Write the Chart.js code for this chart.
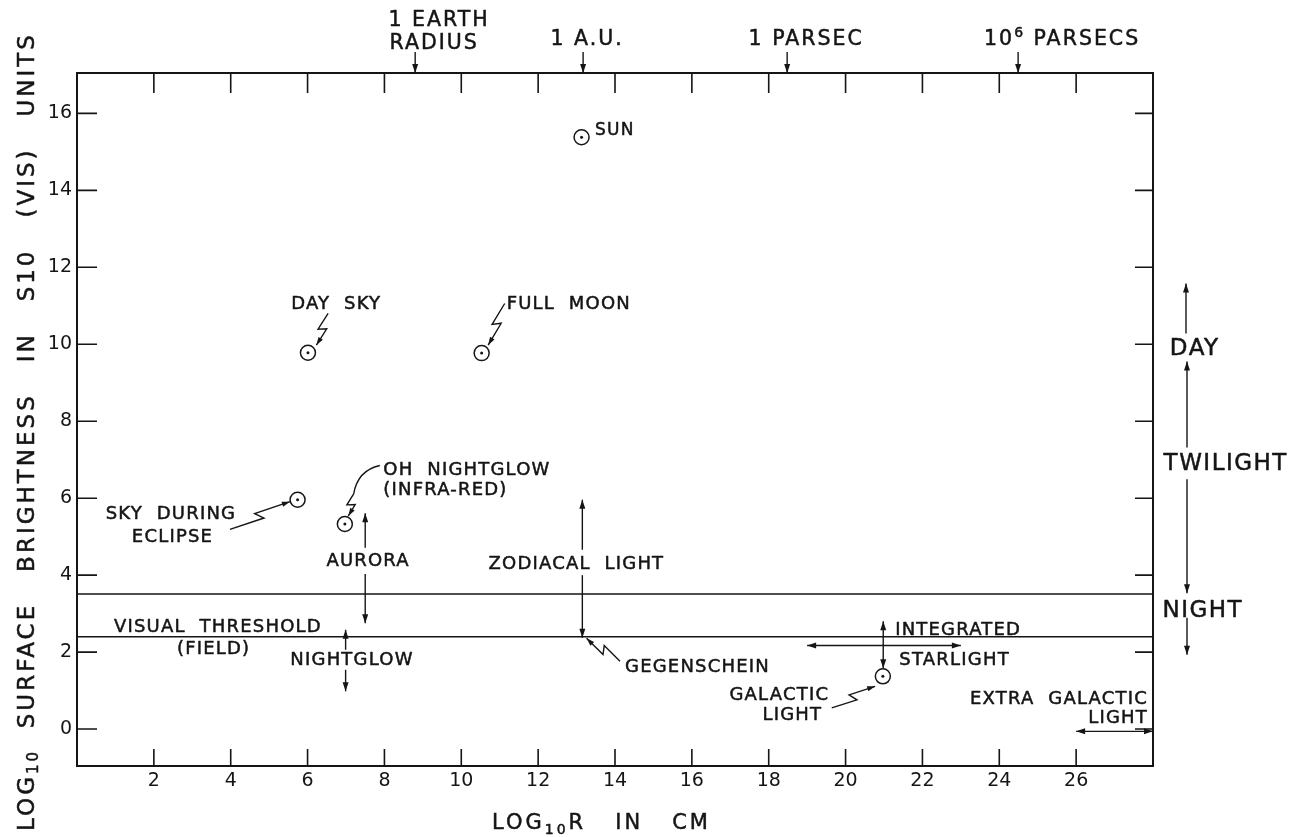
<!DOCTYPE html>
<html>
<head>
<meta charset="utf-8">
<title>Surface brightness of celestial and atmospheric sources</title>
<script src="https://cdn.jsdelivr.net/npm/chart.js@4.4.1/dist/chart.umd.min.js"></script>
<style>
  html, body { margin: 0; padding: 0; background: #fff; }
  #wrap { width: 1296px; height: 837px; }
</style>
</head>
<body>
<div id="wrap"><canvas id="chart" width="1296" height="837"></canvas></div>
<script>
// ---- axis ticks ----
const xTickValues = [2, 4, 6, 8, 10, 12, 14, 16, 18, 20, 22, 24, 26];
const yTickValues = [0, 2, 4, 6, 8, 10, 12, 14, 16];

// ---- point sources: log10 R (cm) vs log10 surface brightness (S10 vis units) ----
const sourceNames = ['SUN', 'DAY SKY', 'FULL MOON', 'SKY DURING ECLIPSE', 'OH NIGHTGLOW (INFRA-RED)', 'GALACTIC LIGHT'];
const sourceLogR  = [13.13, 6.01, 10.53, 5.74, 6.97, 20.97];
const sourceLogB  = [15.38, 9.78, 9.77, 5.96, 5.33, 1.37];

// ---- horizontal reference levels ----
const levelNames  = ['NIGHT LIMIT', 'VISUAL THRESHOLD (FIELD)'];
const levelValues = [3.51, 2.40];

// ---- brightness ranges (vertical double arrows) ----
const rangeNames = ['AURORA', 'NIGHTGLOW', 'ZODIACAL LIGHT', 'INTEGRATED STARLIGHT'];
const rangeLogR  = [7.50, 6.99, 13.15, 20.98];
const rangeLow   = [2.75, 0.98, 2.37, 1.58];
const rangeHigh  = [5.61, 2.58, 5.96, 2.80];

// ---- distance ranges (horizontal double arrows) ----
const spanNames = ['INTEGRATED STARLIGHT', 'EXTRA GALACTIC LIGHT'];
const spanLevel = [2.17, -0.06];
const spanFrom  = [19.0, 26.0];
const spanTo    = [23.0, 28.0];

// ---- reference distances along the top edge ----
const markerNames = ['1 EARTH RADIUS', '1 A.U.', '1 PARSEC', '10^6 PARSECS'];
const markerLogR  = [8.80, 13.17, 18.48, 24.49];

// ---- day / twilight / night regimes on the right ----
const regimeNames  = ['DAY', 'TWILIGHT', 'NIGHT'];
const regimeBounds = [9.55, 3.53];   // day|twilight, twilight|night
const regimeTips   = [11.58, 1.93];  // open ends of the day and night arrows

const X_MIN = 0, X_MAX = 28, Y_MIN = -0.96, Y_MAX = 17.05;
const INK = '#151515';
const FONT = "'DejaVu Sans', 'Liberation Sans', sans-serif";

// ---------- drawing helpers ----------
function arrowHead(ctx, x0, y0, x1, y1, len = 9, half = 3) {
  const a = Math.atan2(y1 - y0, x1 - x0);
  const c = Math.cos(a), s = Math.sin(a);
  ctx.beginPath();
  ctx.moveTo(x1, y1);
  ctx.lineTo(x1 - len * c + half * s, y1 - len * s - half * c);
  ctx.lineTo(x1 - len * c - half * s, y1 - len * s + half * c);
  ctx.closePath();
  ctx.fill();
}
function arrow(ctx, x0, y0, x1, y1, headEnd = true, headStart = false) {
  ctx.beginPath(); ctx.moveTo(x0, y0); ctx.lineTo(x1, y1); ctx.stroke();
  if (headEnd) arrowHead(ctx, x0, y0, x1, y1);
  if (headStart) arrowHead(ctx, x1, y1, x0, y0);
}
// leader line with a lightning-style kink and an arrowhead at the target
function zigzag(ctx, x0, y0, x1, y1) {
  const dx = x1 - x0, dy = y1 - y0, L = Math.hypot(dx, dy);
  const nx = -dy / L, ny = dx / L;
  const a = [x0 + dx * 0.54 + nx * 4, y0 + dy * 0.54 + ny * 4];
  const b = [x0 + dx * 0.44 - nx * 4, y0 + dy * 0.44 - ny * 4];
  ctx.beginPath(); ctx.moveTo(x0, y0); ctx.lineTo(a[0], a[1]); ctx.lineTo(b[0], b[1]); ctx.lineTo(x1, y1); ctx.stroke();
  arrowHead(ctx, b[0], b[1], x1, y1, 8, 2.6);
}
// text made of runs (for sub/superscripts), with letter spacing and optional rotation
function runs(ctx, parts, x, y, { align = 'center', ls = 1.2, rot = 0 } = {}) {
  ctx.save();
  ctx.translate(x, y);
  if (rot) ctx.rotate(rot);
  ctx.fillStyle = INK;
  ctx.strokeStyle = INK;
  ctx.lineWidth = 0.5;
  ctx.lineJoin = 'round';
  ctx.textBaseline = 'middle';
  ctx.textAlign = 'left';
  try { ctx.letterSpacing = ls + 'px'; } catch (e) {}
  const widths = parts.map(p => { ctx.font = `${p.size}px ${FONT}`; return ctx.measureText(p.t).width; });
  const total = widths.reduce((a, b) => a + b, 0) - ls;
  let cx = align === 'center' ? -total / 2 : align === 'right' ? -total : 0;
  parts.forEach((p, i) => {
    ctx.font = `${p.size}px ${FONT}`;
    ctx.fillText(p.t, cx, (p.dy || 0) + 1);
    ctx.strokeText(p.t, cx, (p.dy || 0) + 1);
    cx += widths[i];
  });
  ctx.restore();
}
function label(ctx, t, x, y, size = 18, align = 'center', ls = 1.2) {
  runs(ctx, [{ t, size }], x, y, { align, ls });
}

// ---------- annotation layer ----------
const annotations = {
  id: 'annotations',
  afterDatasetsDraw(chart) {
    const ctx = chart.ctx;
    const sx = chart.scales.x, sy = chart.scales.y;
    const X = v => sx.getPixelForValue(v), Y = v => sy.getPixelForValue(v);
    const { left, right, top, bottom } = chart.chartArea;

    ctx.save();
    ctx.strokeStyle = INK; ctx.fillStyle = INK; ctx.lineCap = 'butt';

    // frame
    ctx.lineWidth = 2;
    ctx.strokeRect(left, top, right - left, bottom - top);

    // inward tick marks on all four sides
    ctx.lineWidth = 1.6;
    ctx.beginPath();
    xTickValues.forEach(v => {
      const p = X(v);
      ctx.moveTo(p, top); ctx.lineTo(p, top + 20);
      ctx.moveTo(p, bottom); ctx.lineTo(p, bottom - 17);
    });
    yTickValues.forEach(v => {
      const p = Y(v);
      ctx.moveTo(left, p); ctx.lineTo(left + 20, p);
      ctx.moveTo(right, p); ctx.lineTo(right - 18, p);
    });
    ctx.stroke();

    // reference distances on the top edge
    ctx.lineWidth = 1.4;
    markerLogR.forEach(v => arrow(ctx, X(v), top - 21, X(v), top));
    label(ctx, '1 EARTH', X(markerLogR[0]) + 23, 20, 20.5, 'center', 2);
    label(ctx, 'RADIUS', X(markerLogR[0]) + 18, 42.5, 20.5, 'center', 2);
    label(ctx, '1 A.U.', X(markerLogR[1]) + 3, 39, 20.5, 'center', 2);
    label(ctx, '1 PARSEC', X(markerLogR[2]) + 18, 39, 20.5, 'center', 2);
    runs(ctx, [{ t: '10', size: 20.5 }, { t: '6', size: 14, dy: -7 }, { t: ' PARSECS', size: 20.5 }],
         X(markerLogR[3]) + 43, 39, { ls: 2 });

    // brightness ranges (vertical arrows broken around their captions)
    ctx.lineWidth = 1.4;
    const rangeGaps = [[4.71, 4.03], [2.06, 1.54], [4.66, 4.00], null];
    rangeLogR.forEach((r, i) => {
      const g = rangeGaps[i];
      if (g) {
        arrow(ctx, X(r), Y(g[0]), X(r), Y(rangeHigh[i]));
        arrow(ctx, X(r), Y(g[1]), X(r), Y(rangeLow[i]));
      } else {
        arrow(ctx, X(r), Y(rangeLow[i]), X(r), Y(rangeHigh[i]), true, true);
      }
    });
    label(ctx, 'AURORA', X(7.56), Y(4.38));
    label(ctx, 'NIGHTGLOW', X(7.14), Y(1.80));
    label(ctx, 'ZODIACAL  LIGHT', X(12.98), Y(4.32));

    // distance ranges
    spanLevel.forEach((lv, i) => arrow(ctx, X(spanFrom[i]), Y(lv), X(spanTo[i]), Y(lv), true, true));
    label(ctx, 'INTEGRATED', X(21.29), Y(2.60), 18, 'left');
    label(ctx, 'STARLIGHT', X(21.40), Y(1.80), 18, 'left');
    label(ctx, 'EXTRA  GALACTIC', X(27.84), Y(0.81), 18, 'right');
    label(ctx, 'LIGHT', X(27.84), Y(0.30), 18, 'right');

    // reference level captions
    label(ctx, 'VISUAL  THRESHOLD', X(3.65), Y(2.66));
    label(ctx, '(FIELD)', X(3.54), Y(2.10));

    // point source captions and leaders
    label(ctx, 'SUN', X(13.48), Y(15.57), 17, 'left');
    label(ctx, 'DAY  SKY', X(6.73), Y(11.06));
    zigzag(ctx, X(6.535), Y(10.80), X(6.23), Y(9.98));
    label(ctx, 'FULL  MOON', X(11.18), Y(11.06), 18, 'left');
    zigzag(ctx, X(11.13), Y(11.06), X(10.70), Y(9.98));
    label(ctx, 'SKY  DURING', X(2.43), Y(5.61));
    label(ctx, 'ECLIPSE', X(2.47), Y(5.00));
    zigzag(ctx, X(3.98), Y(5.19), X(5.54), Y(5.91));
    label(ctx, 'OH  NIGHTGLOW', X(7.97), Y(6.75), 18, 'left');
    label(ctx, '(INFRA-RED)', X(7.97), Y(6.22), 18, 'left');
    ctx.beginPath();
    ctx.moveTo(X(7.88), Y(6.85));
    ctx.quadraticCurveTo(X(7.30), Y(6.72), X(7.20), Y(6.11));
    ctx.stroke();
    zigzag(ctx, X(7.20), Y(6.11), X(7.06), Y(5.54));
    label(ctx, 'GEGENSCHEIN', X(14.26), Y(1.64), 18, 'left');
    zigzag(ctx, X(14.13), Y(1.76), X(13.26), Y(2.36));
    label(ctx, 'GALACTIC', X(18.26), Y(0.89));
    label(ctx, 'LIGHT', X(18.60), Y(0.39));
    zigzag(ctx, X(19.64), Y(0.55), X(20.77), Y(1.11));

    // day / twilight / night regimes beside the frame
    const rx = right + 34;
    ctx.lineWidth = 1.4;
    arrow(ctx, rx - 1, Y(10.28), rx - 1, Y(regimeTips[0]));
    label(ctx, 'DAY', rx + 7, Y(9.90), 23, 'center', 1.5);
    arrow(ctx, rx, Y(7.32), rx, Y(regimeBounds[0]));
    label(ctx, 'TWILIGHT', rx + 38, Y(6.91), 23, 'center', 1.5);
    arrow(ctx, rx, Y(6.49), rx, Y(regimeBounds[1]));
    label(ctx, 'NIGHT', rx + 15, Y(3.10), 23, 'center', 1.5);
    arrow(ctx, rx, Y(2.89), rx, Y(regimeTips[1]));

    // axis titles
    runs(ctx, [{ t: 'LOG', size: 23 }, { t: '10', size: 15, dy: 6 },
               { t: '  SURFACE   BRIGHTNESS   IN   S10   (VIS)   UNITS', size: 23 }],
         27, 433, { rot: -Math.PI / 2, ls: 3 });
    runs(ctx, [{ t: 'LOG', size: 21 }, { t: '10', size: 14, dy: 6 }, { t: 'R   IN   CM', size: 21 }],
         600, 823, { ls: 3 });

    ctx.restore();
  }
};

// ---------- chart ----------
const pts = sourceLogR.map((x, i) => ({ x, y: sourceLogB[i] }));
const tickFont = { family: FONT, size: 19 };

new Chart(document.getElementById('chart'), {
  type: 'scatter',
  data: {
    datasets: [
      ...levelValues.map((v, i) => ({
        type: 'line', label: levelNames[i], order: 3,
        data: [{ x: X_MIN, y: v }, { x: X_MAX, y: v }],
        borderColor: INK, borderWidth: 1.6, pointRadius: 0, fill: false
      })),
      { label: 'sources', data: pts, order: 2, pointRadius: 7.5, pointBorderWidth: 1.5,
        pointBorderColor: INK, pointBackgroundColor: '#fff' },
      { label: 'source centres', data: pts, order: 1, pointRadius: 1.5, pointBorderWidth: 0,
        pointBackgroundColor: INK }
    ]
  },
  options: {
    responsive: false,
    animation: false,
    devicePixelRatio: 1,
    layout: { padding: { top: 73, right: 143, left: 0, bottom: 0 } },
    plugins: { legend: { display: false }, tooltip: { enabled: false } },
    scales: {
      x: {
        type: 'linear', min: X_MIN, max: X_MAX,
        afterBuildTicks: s => { s.ticks = xTickValues.map(value => ({ value })); },
        afterFit: s => { s.height = 71; },
        grid: { display: false, drawTicks: false },
        border: { display: false },
        ticks: { color: INK, font: tickFont, padding: 4, maxRotation: 0, autoSkip: false }
      },
      y: {
        type: 'linear', min: Y_MIN, max: Y_MAX,
        afterBuildTicks: s => { s.ticks = yTickValues.map(value => ({ value })); },
        afterFit: s => { s.width = 77; },
        grid: { display: false, drawTicks: false },
        border: { display: false },
        ticks: { color: INK, font: tickFont, padding: 5, autoSkip: false }
      }
    }
  },
  plugins: [annotations]
});
</script>
</body>
</html>
